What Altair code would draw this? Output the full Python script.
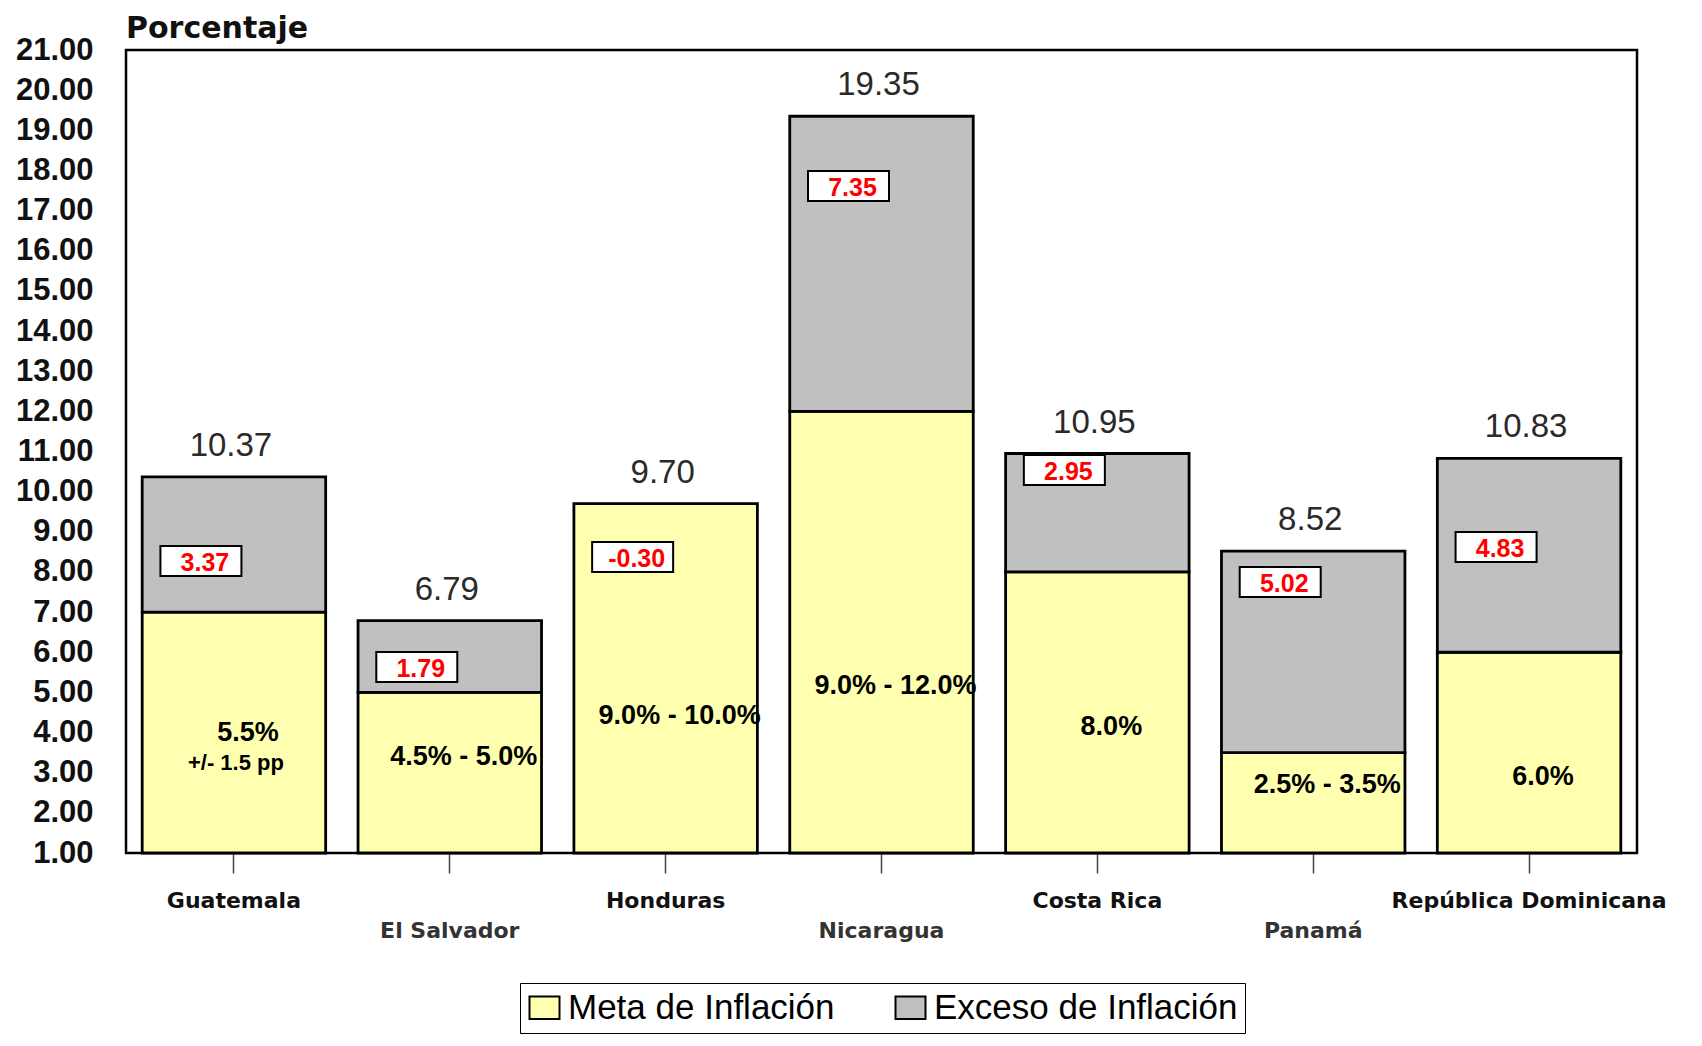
import altair as alt
import pandas as pd

countries = ["Guatemala", "El Salvador", "Honduras", "Nicaragua", "Costa Rica", "Panamá", "República Dominicana"]
totals = [10.37, 6.79, 9.70, 19.35, 10.95, 8.52, 10.83]
excess = [3.37, 1.79, -0.30, 7.35, 2.95, 5.02, 4.83]
meta_upper = [7.0, 5.0, 10.0, 12.0, 8.0, 3.5, 6.0]
meta_text = ["5.5%", "4.5% - 5.0%", "9.0% - 10.0%", "9.0% - 12.0%", "8.0%", "2.5% - 3.5%", "6.0%"]
meta_note = ["+/- 1.5 pp", "", "", "", "", "", ""]
# label anchors (in axis units) as placed in the original figure
excess_box_y = [8.27, 5.63, 8.37, 17.61, 10.54, 7.75, 8.62]
meta_text_y = [3.99, 3.39, 4.41, 5.16, 4.14, 2.69, 2.89]
meta_note_y = [3.24, None, None, None, None, None, None]
axis_base = 1.0
series = ["Meta de Inflación", "Exceso de Inflación"]
series_colors = ["#FFFFB0", "#C0C0C0"]
lower_row = ["El Salvador", "Nicaragua", "Panamá"]

FONT = "Liberation Sans"
WIDE = "DejaVu Sans"

rows = []
for c, t, e, m in zip(countries, totals, excess, meta_upper):
    rows.append({"country": c, "serie": series[0], "y0": axis_base, "y1": min(m, t)})
    if e > 0:
        rows.append({"country": c, "serie": series[1], "y0": m, "y1": t})
seg = pd.DataFrame(rows)

lab = pd.DataFrame({
    "country": countries,
    "total": totals,
    "excess_txt": [f"{e:.2f}" for e in excess],
    "box_y": excess_box_y,
    "meta_text": meta_text,
    "meta_y": meta_text_y,
})
note = pd.DataFrame({"country": countries, "note": meta_note, "note_y": meta_note_y}).dropna()

test_lower = "indexof(" + str(lower_row) + ", datum.value) >= 0"

x_axis = alt.Axis(
    title=None, labelAngle=0, domain=False, ticks=True, tickSize=20, tickColor="#444444",
    tickWidth=1.5, labelFont=WIDE, labelFontWeight="bold", labelFontSize=22,
    labelColor={"condition": {"test": test_lower, "value": "#333333"}, "value": "#111111"},
    labelPadding={"condition": {"test": test_lower, "value": 47}, "value": 17},
    labelBaseline="top", labelLimit=0, labelOverlap=False, labelBound=False,
)
x_enc = alt.X("country:N", sort=countries, scale=alt.Scale(paddingInner=0.15, paddingOuter=0.075), axis=x_axis)
y_scale = alt.Scale(domain=[1, 21], nice=False, zero=False)

bars = alt.Chart(seg).mark_bar(stroke="black", strokeWidth=2.8).encode(
    x=x_enc,
    y=alt.Y("y0:Q", scale=y_scale, axis=alt.Axis(
        title=None, values=list(range(1, 22)), format=".2f", domain=False, ticks=False, grid=False,
        labelFont=FONT, labelFontWeight="bold", labelFontSize=31, labelPadding=33, labelColor="#111111")),
    y2="y1:Q",
    color=alt.Color("serie:N", scale=alt.Scale(domain=series, range=series_colors),
                    legend=alt.Legend(
                        title=None, orient="none", legendX=394, legendY=933, direction="horizontal",
                        columns=2, strokeColor="black", fillColor="white", padding=7,
                        symbolType="M-1,-0.75H1V0.75H-1Z", symbolSize=900, symbolStrokeColor="black",
                        symbolStrokeWidth=2, symbolOpacity=1,
                        labelFont=FONT, labelFontSize=35, labelColor="black", labelOffset=6,
                        columnPadding=56, labelLimit=0)),
)

totals_txt = alt.Chart(lab).mark_text(
    font=FONT, fontSize=33, color="#2a2a2a", baseline="bottom", dy=-14, dx=-3
).encode(x=alt.X("country:N", sort=countries), y=alt.Y("total:Q", scale=y_scale),
         text=alt.Text("total:Q", format=".2f"))

boxes = alt.Chart(lab).mark_point(
    shape="M-1,-0.37H1V0.37H-1Z", size=81 * 81, filled=True, fill="white", stroke="black",
    strokeWidth=2, opacity=1, xOffset=-33
).encode(x=alt.X("country:N", sort=countries), y=alt.Y("box_y:Q", scale=y_scale))

box_txt = alt.Chart(lab).mark_text(
    font=FONT, fontSize=25, fontWeight="bold", color="#FF0000", baseline="middle", dx=-29, dy=2
).encode(x=alt.X("country:N", sort=countries), y=alt.Y("box_y:Q", scale=y_scale), text="excess_txt:N")

meta_txt = alt.Chart(lab).mark_text(
    font=FONT, fontSize=27, fontWeight="bold", color="black", baseline="middle", dx=14
).encode(x=alt.X("country:N", sort=countries), y=alt.Y("meta_y:Q", scale=y_scale), text="meta_text:N")

note_txt = alt.Chart(note).mark_text(
    font=FONT, fontSize=22, fontWeight="bold", color="black", baseline="middle", dx=2
).encode(x=alt.X("country:N", sort=countries), y=alt.Y("note_y:Q", scale=y_scale), text="note:N")

chart = alt.layer(bars, totals_txt, boxes, box_txt, meta_txt, note_txt).properties(
    width=1511, height=803,
    background="white",
    autosize=alt.AutoSizeParams(type="none"),
    padding={"left": 118, "top": 42, "right": 52, "bottom": 185},
    title=alt.TitleParams("Porcentaje", anchor="start", frame="group", font=WIDE, fontSize=30,
                          fontWeight="bold", color="#111111", offset=-10),
).configure_view(stroke="black", strokeWidth=2.5)

chart.save("out.html", embed_options={"renderer": "svg", "actions": False})
